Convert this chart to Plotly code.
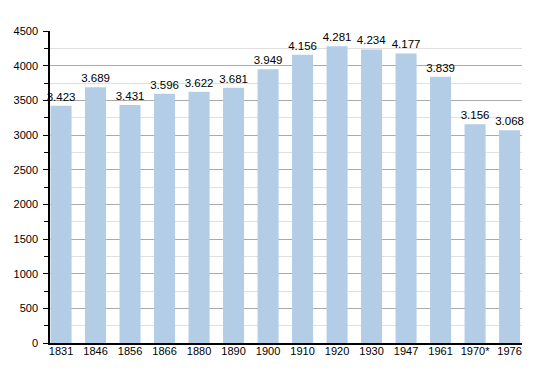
import plotly.graph_objects as go

years = ["1831", "1846", "1856", "1866", "1880", "1890", "1900", "1910",
         "1920", "1930", "1947", "1961", "1970*", "1976"]
population = [3423, 3689, 3431, 3596, 3622, 3681, 3949, 4156,
              4281, 4234, 4177, 3839, 3156, 3068]

fig = go.Figure(go.Bar(
    x=list(range(len(years))),
    y=population,
    marker=dict(color="#b3cde6", line=dict(width=0)),
    texttemplate="%{y:,}",
    textposition="outside",
    constraintext="none",
    textfont=dict(family="Liberation Sans, Arial, sans-serif", size=11.5, color="#000"),
    cliponaxis=False,
    hoverinfo="x+y",
))

fig.update_layout(
    width=534, height=357,
    margin=dict(l=42, r=20, t=23, b=22, autoexpand=False),
    paper_bgcolor="white", plot_bgcolor="white",
    separators=",.",
    bargap=0.39,
    showlegend=False,
    font=dict(family="Liberation Sans, Arial, sans-serif", size=11, color="#000"),
)
fig.update_xaxes(
    tickmode="array",
    tickvals=list(range(len(years))),
    ticktext=years,
    range=[-0.32, 13.36],
    showgrid=False,
    showline=True, linecolor="#000", linewidth=1.5,
    ticks="", ticklen=0,
    ticklabelstandoff=-3,
    zeroline=False,
    automargin=False,
)
fig.update_yaxes(
    range=[0, 4500],
    dtick=500,
    showgrid=True, gridcolor="#aaaaaa", gridwidth=1,
    minor=dict(dtick=250, showgrid=True, gridcolor="#e0e0e0", ticks="outside",
               ticklen=4, tickcolor="#000"),
    showline=True, linecolor="#000", linewidth=1.5,
    ticks="outside", ticklen=5, tickcolor="#000",
    ticklabelstandoff=3,
    zeroline=False,
    automargin=False,
    layer="below traces",
)

fig.write_html("out.html")
